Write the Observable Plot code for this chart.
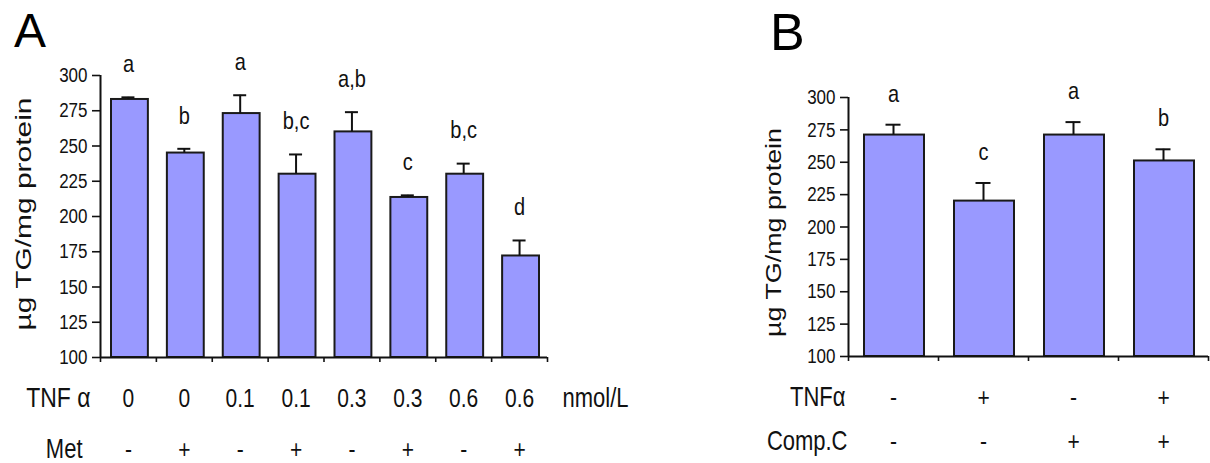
<!DOCTYPE html>
<html>
<head>
<meta charset="utf-8">
<script src="https://cdn.jsdelivr.net/npm/d3@7"></script>
<script src="https://cdn.jsdelivr.net/npm/@observablehq/plot@0.6"></script>
<style>
  html, body { margin: 0; padding: 0; background: #fff; }
  #wrap { position: relative; width: 1210px; height: 463px; overflow: hidden; }
  .panel { position: absolute; top: 0; }
  .head { position: absolute; font-family: "Liberation Sans", Arial, sans-serif; line-height: 48px; color: #000; }
</style>
</head>
<body>
<div id="wrap">
  <div class="head" style="left:14px; top:7px; font-size:48px;">A</div>
  <div class="head" style="left:770px; top:8px; font-size:52px;">B</div>
  <div id="pa" class="panel" style="left:0px;"></div>
  <div id="pb" class="panel" style="left:650px;"></div>
</div>
<script>
// ---- Panel A data ----
const tnfA = ["0", "0", "0.1", "0.1", "0.3", "0.3", "0.6", "0.6"];
const metA = ["-", "+", "-", "+", "-", "+", "-", "+"];
const meanA = [283, 245, 273, 230, 260, 213.5, 230, 172];
const errA = [1.5, 3, 13, 14, 14, 1.5, 7.5, 11];
const sigA = ["a", "b", "a", "b,c", "a,b", "c", "b,c", "d"];

// ---- Panel B data ----
const tnfB = ["-", "+", "-", "+"];
const compB = ["-", "-", "+", "+"];
const meanB = [271, 220, 271, 251];
const errB = [8, 14, 10, 9];
const sigB = ["a", "c", "a", "b"];

const yTicks = [100, 125, 150, 175, 200, 225, 250, 275, 300];
const yLabel = "µg TG/mg protein";

const SANS = "'Liberation Sans', Arial, sans-serif";
const FILL = "#9999ff";
const INK = "#111";

const dataA = meanA.map((m, i) => ({i, mean: m, top: m + errA[i], sig: sigA[i], tnf: tnfA[i], met: metA[i]}));
const dataB = meanB.map((m, i) => ({i, mean: m, top: m + errB[i], sig: sigB[i], tnf: tnfB[i], comp: compB[i]}));

function panel(data, opt) {
  const n = data.length;
  return Plot.plot({
    width: opt.width, height: 463,
    marginLeft: opt.ml, marginRight: opt.mr, marginTop: opt.mt, marginBottom: 463 - opt.yBase,
    x: {domain: [0, n], axis: null},
    y: {domain: [100, 300], axis: null},
    style: {fontFamily: SANS, fontSize: "17px", color: INK, background: "transparent", overflow: "visible"},
    marks: [
      Plot.rectY(data, {x1: d => d.i, x2: d => d.i + 1, y1: 100, y2: "mean",
        insetLeft: opt.inL, insetRight: opt.inR, fill: FILL, stroke: "#1a1a1a", strokeWidth: 2}),
      Plot.ruleX(data, {x: d => d.i + 0.5, y1: "mean", y2: "top", stroke: INK, strokeWidth: 2}),
      Plot.ruleY(data, {y: "top", x1: d => d.i + 0.5, x2: d => d.i + 0.5,
        insetLeft: -opt.cap, insetRight: -opt.cap, stroke: INK, strokeWidth: 2}),
      Plot.axisY({ticks: yTicks, tickSize: 8, tickPadding: 5, label: null, stroke: INK, strokeWidth: 1.6,
        fontSize: 17, fontFamily: SANS, fill: INK}),
      Plot.axisX({ticks: d3.range(0, n + 1), tickSize: 5, tickFormat: () => "", stroke: INK, strokeWidth: 1.6, label: null}),
      Plot.ruleX([0], {y1: 100, y2: 300, stroke: INK, strokeWidth: 2}),
      Plot.ruleY([100], {stroke: INK, strokeWidth: 2}),
      Plot.text(data, {x: d => d.i + 0.5, y: "top", text: "sig", dy: opt.sigDy, fontSize: 20, fill: INK}),
      Plot.text([yLabel], {frameAnchor: "left", textAnchor: "start", dx: opt.labDx, dy: opt.labDy, rotate: -90,
        fontSize: 22, fill: INK, className: "ylab"}),
      ...opt.rows.flatMap(r => [
        Plot.text(data, {x: d => d.i + 0.5, frameAnchor: "bottom", text: r.key, dy: r.dy, fontSize: r.vfs, fill: INK}),
        Plot.text([r.name], {frameAnchor: "bottom-left", textAnchor: "end", dx: r.dx, dy: r.dy, fontSize: r.fs, fill: INK})
      ]),
      ...(opt.unit ? [Plot.text([opt.unit], {frameAnchor: "bottom-right", textAnchor: "start", dx: 15, dy: opt.rows[0].dy, fontSize: 22, fill: INK})] : [])
    ]
  });
}

const svgA = panel(dataA, {
  width: 650, ml: 100, mr: 103, mt: 75, yBase: 357, inL: 11, inR: 8, cap: 6.5, sigDy: -33,
  labDx: -77, labDy: 114,
  rows: [{key: "tnf", name: "TNF α", dx: -10, dy: 49, fs: 23, vfs: 21}, {key: "met", name: "Met", dx: -18, dy: 100, fs: 22, vfs: 21}],
  unit: "nmol/L"
});
const svgB = panel(dataB, {
  width: 560, ml: 198, mr: 2, mt: 97, yBase: 356, inL: 16, inR: 14, cap: 7.5, sigDy: -31,
  labDx: -75, labDy: 110,
  rows: [{key: "tnf", name: "TNFα", dx: -3, dy: 49, fs: 22, vfs: 21}, {key: "comp", name: "Comp.C", dx: -1, dy: 93, fs: 22, vfs: 21}],
  unit: null
});

document.getElementById("pa").appendChild(svgA);
document.getElementById("pb").appendChild(svgB);

// The reference figure is stretched vertically: stretch each horizontal text glyph likewise
for (const svg of [svgA, svgB]) {
  d3.select(svg).selectAll("text").each(function() {
    const el = d3.select(this);
    if (this.textContent === yLabel) return;
    const t = el.attr("transform") || "";
    el.attr("transform", t + " scale(1,1.22)");
  });
}
// stretch the rotated y labels to the length seen in the reference
d3.select(svgA).selectAll("text").filter(function() { return this.textContent === yLabel; })
  .attr("textLength", 233).attr("lengthAdjust", "spacingAndGlyphs");
d3.select(svgB).selectAll("text").filter(function() { return this.textContent === yLabel; })
  .attr("textLength", 209).attr("lengthAdjust", "spacingAndGlyphs");
</script>
</body>
</html>
